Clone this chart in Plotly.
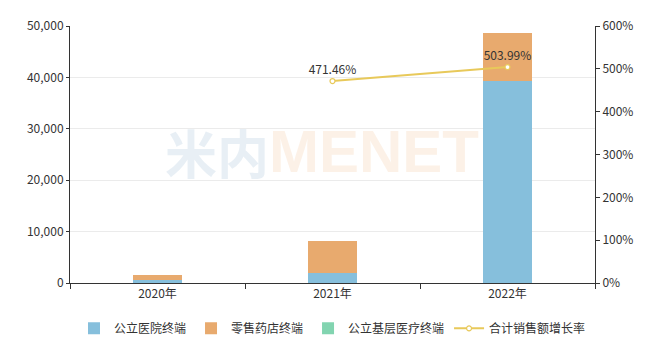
import plotly.graph_objects as go

categories = ["2020年", "2021年", "2022年"]
public_hospital = [560, 1900, 39300]
retail_pharmacy = [950, 6300, 9300]
primary_care = [0, 0, 0]
growth_rate = [None, 471.46, 503.99]
growth_labels = ["", "471.46%", "503.99%"]

FONT = "Noto Sans CJK SC, Noto Sans, sans-serif"

fig = go.Figure()
fig.add_trace(go.Bar(name="公立医院终端", x=categories, y=public_hospital,
                     marker=dict(color="#86bfdc", line=dict(width=0))))
fig.add_trace(go.Bar(name="零售药店终端", x=categories, y=retail_pharmacy,
                     marker=dict(color="#e8aa6e", line=dict(width=0))))
fig.add_trace(go.Bar(name="公立基层医疗终端", x=categories, y=primary_care,
                     marker=dict(color="#82d4b0", line=dict(width=0))))
fig.add_trace(go.Scatter(name="合计销售额增长率", x=categories, y=growth_rate,
                         yaxis="y2", mode="lines+markers+text",
                         text=growth_labels, textposition="top center",
                         textfont=dict(size=12, color="#333333", family=FONT),
                         line=dict(color="#e8c95a", width=2),
                         marker=dict(symbol="circle", size=5, color="white",
                                     line=dict(color="#e8c95a", width=1.2))))

# watermark
fig.add_annotation(x=0.383, y=0.51, xref="paper", yref="paper", text="<b>米内</b>",
                   showarrow=False, xanchor="right",
                   font=dict(size=52, color="rgba(190,210,225,0.35)", family=FONT))
fig.add_annotation(x=0.375, y=0.51, xref="paper", yref="paper", text="<b>MENET</b>",
                   showarrow=False, xanchor="left",
                   font=dict(size=60, color="rgba(245,200,160,0.25)", family="Liberation Sans, Arial"))

# page body has an 8px margin; size the figure so the plot lands where the reference has it
fig.update_layout(
    width=648, height=348,
    margin=dict(l=62, r=61, t=18, b=73),
    barmode="stack", bargap=0.72,
    plot_bgcolor="white", paper_bgcolor="white",
    font=dict(family=FONT, size=12, color="#333333"),
    xaxis=dict(showline=True, linecolor="#333333", linewidth=1, ticks="outside",
               tickson="boundaries", ticklen=5, tickcolor="#333333",
               tickfont=dict(size=12, color="#333333"), automargin=False),
    yaxis=dict(range=[0, 50000], dtick=10000, tickformat=",", showline=True,
               linecolor="#333333", ticks="outside", ticklen=3, tickcolor="#333333",
               gridcolor="#ebebeb", zeroline=False, automargin=False,
               tickfont=dict(size=12, color="#333333")),
    yaxis2=dict(range=[0, 600], dtick=100, ticksuffix="%", overlaying="y", side="right",
                showline=True, linecolor="#333333", ticks="outside", ticklen=4,
                tickcolor="#333333", showgrid=False, zeroline=False, automargin=False,
                tickfont=dict(size=12, color="#333333")),
    legend=dict(orientation="h", x=0.5, xanchor="center", y=-0.12, yanchor="top",
                font=dict(size=12, color="#333333"), itemwidth=30,
                traceorder="normal"),
)

fig.write_html("out.html")
